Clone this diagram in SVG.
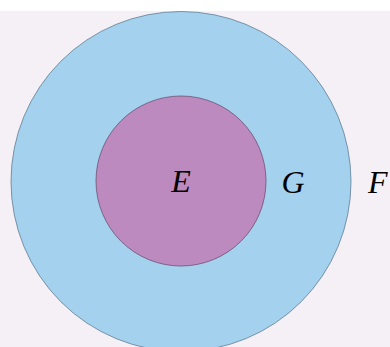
<svg xmlns="http://www.w3.org/2000/svg" width="390" height="347" viewBox="0 0 390 347">
<style>
.lbl{font-family:"Liberation Serif","DejaVu Serif",serif;font-style:italic;font-size:32px;fill:#000}
</style>
<rect x="0" y="0" width="390" height="347" fill="#ffffff"/>
<rect x="0" y="11" width="390" height="336" fill="#f5eff6"/>
<g id="F">
<circle cx="181" cy="181.5" r="170" fill="#a3d1ee" stroke="#5f7e92" stroke-width="0.8"/>
<text class="lbl" x="368" y="193">F</text>
</g>
<g id="G">
<text class="lbl" x="293" y="193" text-anchor="middle">G</text>
</g>
<g id="E">
<circle cx="181" cy="181" r="85" fill="#bc8abe" stroke="#6e4f70" stroke-width="0.8"/>
<text class="lbl" x="181" y="192" text-anchor="middle">E</text>
</g>
<g id="connectors"></g>
</svg>
